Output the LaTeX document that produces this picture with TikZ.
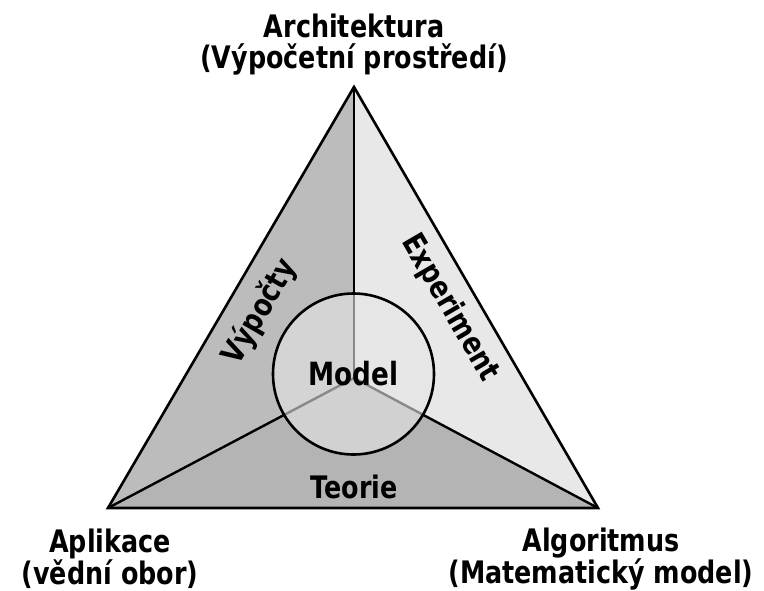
\documentclass[tikz,border=0pt]{standalone}
\usepackage{fontspec}
\setmainfont{DejaVu Sans}[FakeStretch=0.82]
\definecolor{leftgray}{RGB}{188,188,188}
\definecolor{rightgray}{RGB}{232,232,232}
\definecolor{bottomgray}{RGB}{180,180,180}
\definecolor{modelgray}{RGB}{229,229,229}
\begin{document}
\begin{tikzpicture}[x=1pt,y=-1pt,
  lbl/.style={font=\bfseries\fontsize{31}{31}\selectfont, align=center, inner sep=0pt},
  edge/.style={line width=2.6pt, line join=miter},
  spoke/.style={line width=2.4pt},
  modelnode/.style={circle, draw, line width=2.6pt, minimum size=161pt, inner sep=0pt,
    fill=modelgray, fill opacity=0.6, draw opacity=1, text opacity=1,
    font=\bfseries\fontsize{32}{32}\selectfont}]
\useasboundingbox (0,0) rectangle (764,590);
\coordinate (T) at (354,87);
\coordinate (L) at (108,508);
\coordinate (R) at (598,508);
\coordinate (C) at (354,378);
\fill[leftgray] (T) -- (L) -- (C) -- cycle;
\fill[rightgray] (T) -- (R) -- (C) -- cycle;
\fill[bottomgray] (L) -- (R) -- (C) -- cycle;
\draw[spoke] (T) -- (C);
\draw[spoke] (L) -- (C);
\draw[spoke] (R) -- (C);
\node[modelnode] (model) at (353.5,374) {Model};
\draw[edge] (T) -- (L) -- (R) -- cycle;
\node[lbl] (arch) at (354,45) {Architektura\\(Výpočetní prostředí)};
\node[lbl] (apl) at (110,559) {Aplikace\\(vědní obor)};
\node[lbl] (alg) at (601,559) {Algoritmus\\(Matematický model)};
\node[lbl] (teorie) at (354,487) {Teorie};
\node[lbl, rotate=59.7] (vyp) at (260,312) {Výpočty};
\node[lbl, rotate=-59.7] (exp) at (450,308) {Experiment};
\end{tikzpicture}
\end{document}
